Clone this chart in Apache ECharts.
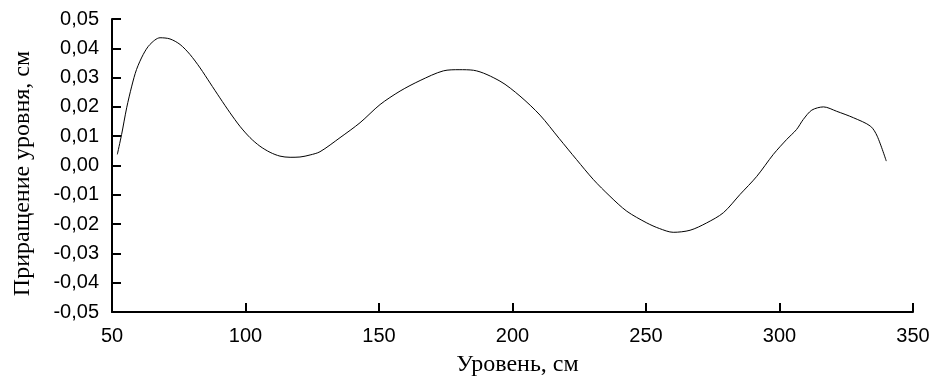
<!DOCTYPE html>
<html><head><meta charset="utf-8">
<script src="https://cdn.jsdelivr.net/npm/echarts@6/dist/echarts.min.js"></script>
<style>html,body{margin:0;padding:0;background:#fff}#c{width:948px;height:378px}</style>
</head><body><div id="c"></div>
<script>
const levels = [52, 53.6, 55.5, 57.4, 59.2, 61.7, 64.2, 68, 71.7, 75.5, 79.2, 83, 86.7, 90.4, 94.2, 97.9, 101.7, 105.4, 109.2, 112.9, 116.7, 120.4, 124.2, 127.9, 135.4, 142.9, 150.4, 157.9, 165.4, 174.1, 180, 185.4, 195.3, 202.8, 210.3, 217.5, 224, 230.3, 236.5, 242.8, 250.3, 255, 260.2, 266.5, 272.7, 279, 285.2, 291.5, 297.7, 302.7, 306.4, 308.9, 312.1, 316.5, 321.4, 327.7, 334.1, 336.6, 340];
const increments = [0.0038, 0.0106, 0.0197, 0.0271, 0.0328, 0.0379, 0.0413, 0.0436, 0.0432, 0.0413, 0.0379, 0.0333, 0.0282, 0.0231, 0.0180, 0.0134, 0.0095, 0.0066, 0.0045, 0.0032, 0.0028, 0.0029, 0.0036, 0.0047, 0.0095, 0.0146, 0.0208, 0.0254, 0.0290, 0.0323, 0.0327, 0.0325, 0.0288, 0.0237, 0.0172, 0.0092, 0.0020, -0.0048, -0.0105, -0.0156, -0.0196, -0.0215, -0.0228, -0.0221, -0.0196, -0.0161, -0.0099, -0.0037, 0.0038, 0.0089, 0.0123, 0.0157, 0.0189, 0.0200, 0.0185, 0.0163, 0.0134, 0.0100, 0.0015];
const xTitle = 'Уровень, см';
const yTitle = 'Приращение уровня, см';

const serif = '"Liberation Serif", "DejaVu Serif", serif';
const sans = '"Liberation Sans", Arial, sans-serif';
const chart = echarts.init(document.getElementById('c'), null, {renderer: 'canvas'});
chart.setOption({
  animation: false,
  backgroundColor: '#fff',
  grid: {left: 112, right: 35, top: 19, bottom: 66, containLabel: false, outerBoundsMode: 'none'},
  xAxis: {
    type: 'value', min: 50, max: 350, interval: 50,
    name: xTitle, nameLocation: 'middle', nameGap: 41,
    nameTextStyle: {fontFamily: serif, fontSize: 24, color: '#000', padding: [0, 0, 0, 10]},
    axisLine: {show: true, onZero: false, lineStyle: {color: '#000', width: 2}},
    axisTick: {show: true, inside: true, length: 9, lineStyle: {color: '#000', width: 2}},
    axisLabel: {fontFamily: sans, fontSize: 20, color: '#000', margin: 14},
    splitLine: {show: false}
  },
  yAxis: {
    type: 'value', min: -0.05, max: 0.05, interval: 0.01,
    name: yTitle, nameLocation: 'middle', nameGap: 77, nameRotate: 90,
    nameTextStyle: {fontFamily: serif, fontSize: 24, color: '#000', padding: [0, 16, 0, 0]},
    axisLine: {show: true, onZero: false, lineStyle: {color: '#000', width: 2}},
    axisTick: {show: true, inside: true, length: 9, lineStyle: {color: '#000', width: 2}},
    axisLabel: {fontFamily: sans, fontSize: 20, color: '#000', margin: 13,
      formatter: v => v.toFixed(2).replace('.', ',')},
    splitLine: {show: false}
  },
  series: [{
    type: 'line',
    data: levels.map((x, i) => [x, increments[i]]),
    showSymbol: false,
    smooth: 0.3,
    lineStyle: {color: '#000', width: 1}
  }]
});
</script></body></html>
